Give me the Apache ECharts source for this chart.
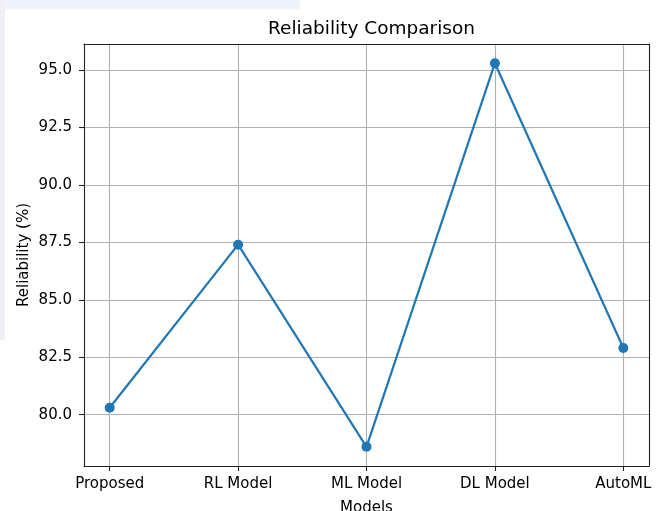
<!DOCTYPE html>
<html>
<head>
<meta charset="utf-8">
<script src="https://cdn.jsdelivr.net/npm/echarts@6/dist/echarts.min.js"></script>
<style>
html,body{margin:0;padding:0;background:#fff;}
#chart{width:664px;height:511px;}
</style>
</head>
<body>
<div id="chart"></div>
<script>
const categories = ['Proposed', 'RL Model', 'ML Model', 'DL Model', 'AutoML'];
const reliability = [80.3, 87.4, 78.6, 95.3, 82.9];
const yTicks = [80.0, 82.5, 85.0, 87.5, 90.0, 92.5, 95.0];
const xTicks = [0, 1, 2, 3, 4];

const font = '"DejaVu Sans", sans-serif';
const chart = echarts.init(document.getElementById('chart'), null, {renderer: 'canvas'});

const yMin = Math.min(...reliability), yMax = Math.max(...reliability);
const yPad = (yMax - yMin) * 0.05;
const xPad = (categories.length - 1) * 0.05;
const spine = {show: true, onZero: false, lineStyle: {color: '#222', width: 1.1}};

chart.setOption({
  animation: false,
  backgroundColor: '#fff',
  graphic: [
    {type: 'rect', shape: {x: 0, y: 0, width: 300, height: 9}, style: {fill: '#eef3fb'}, z: -10},
    {type: 'rect', shape: {x: 0, y: 0, width: 5, height: 340}, style: {fill: '#f1eef5'}, z: -10}
  ],
  title: {
    text: 'Reliability Comparison',
    left: 366.5, top: 15, textAlign: 'center',
    textStyle: {fontFamily: font, fontSize: 18.5, fontWeight: 'normal', color: '#000'}
  },
  grid: {left: 84, right: 15, top: 44, bottom: 45, containLabel: false, outerBoundsMode: 'none'},
  xAxis: [{
    type: 'value',
    min: -xPad, max: categories.length - 1 + xPad,
    name: 'Models', nameLocation: 'middle', nameGap: 35, nameMoveOverlap: false,
    nameTextStyle: {fontFamily: font, fontSize: 15, color: '#000'},
    axisLine: spine,
    axisTick: {show: true, length: 5, lineStyle: {color: '#222', width: 1.1}, customValues: xTicks},
    axisLabel: {
      customValues: xTicks, margin: 11,
      fontFamily: font, fontSize: 15, color: '#000',
      formatter: v => categories[Math.round(v)]
    },
    splitLine: {show: true, lineStyle: {color: '#b0b0b0', width: 1.1}}
  }, {
    type: 'value', position: 'top',
    min: -xPad, max: categories.length - 1 + xPad,
    axisLine: spine, axisTick: {show: false}, axisLabel: {show: false}, splitLine: {show: false}
  }],
  yAxis: [{
    type: 'value',
    min: yMin - yPad, max: yMax + yPad,
    name: 'Reliability (%)', nameLocation: 'middle', nameGap: 52, nameRotate: 90, nameMoveOverlap: false,
    nameTextStyle: {fontFamily: font, fontSize: 15, color: '#000'},
    axisLine: spine,
    axisTick: {show: true, length: 5, lineStyle: {color: '#222', width: 1.1}, customValues: yTicks},
    axisLabel: {
      customValues: yTicks, margin: 12,
      fontFamily: font, fontSize: 15, color: '#000',
      formatter: v => v.toFixed(1)
    },
    splitLine: {show: true, lineStyle: {color: '#b0b0b0', width: 1.1}}
  }, {
    type: 'value', position: 'right',
    min: yMin - yPad, max: yMax + yPad,
    axisLine: spine, axisTick: {show: false}, axisLabel: {show: false}, splitLine: {show: false}
  }],
  series: [{
    type: 'line',
    xAxisIndex: 0, yAxisIndex: 0,
    data: reliability.map((v, i) => [i, v]),
    symbol: 'circle', symbolSize: 10,
    lineStyle: {color: '#1f77b4', width: 2.2},
    itemStyle: {color: '#1f77b4'}
  }]
});
</script>
</body>
</html>
